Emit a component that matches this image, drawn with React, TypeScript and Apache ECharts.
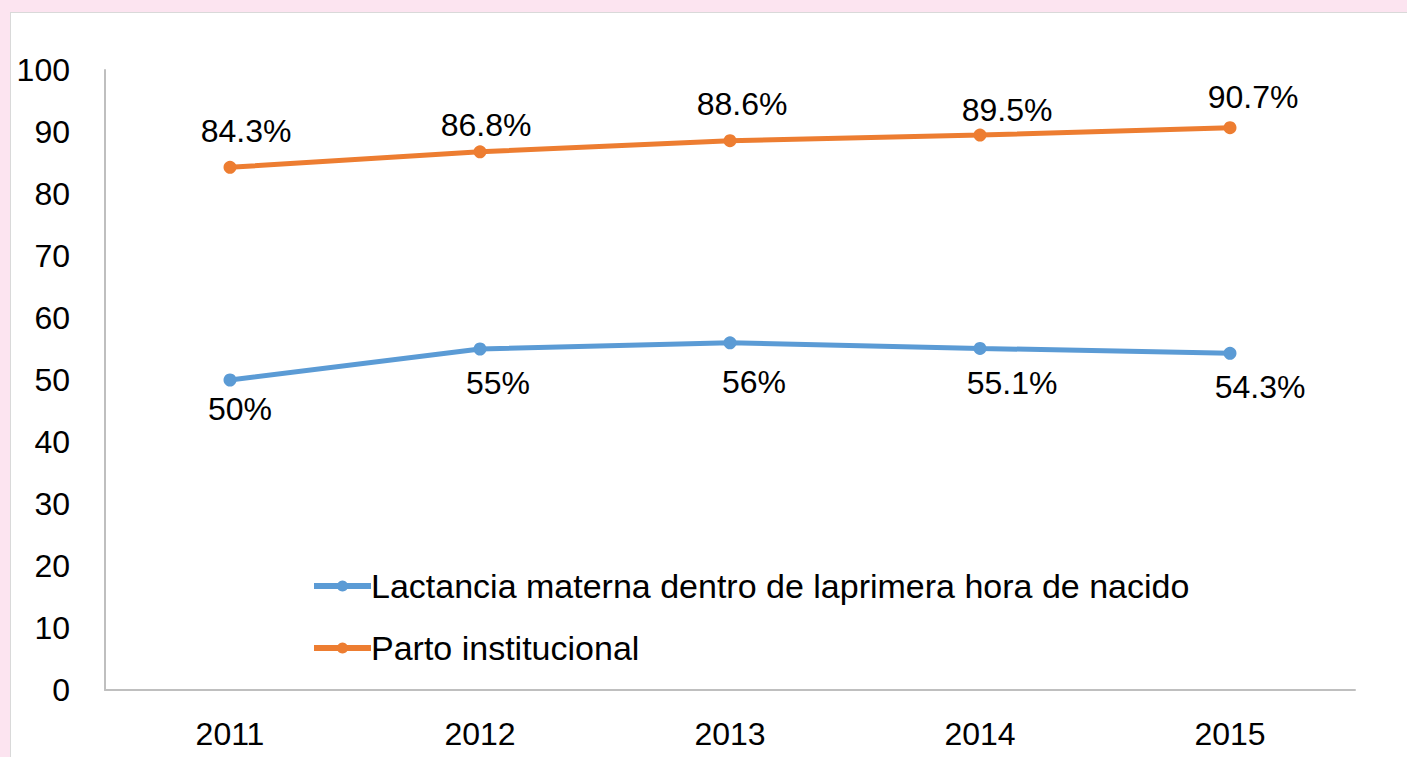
import React, { useEffect, useRef } from "react";
import * as echarts from "echarts";

const years = ["2011", "2012", "2013", "2014", "2015"];
const lactancia = [50, 55, 56, 55.1, 54.3];
const parto = [84.3, 86.8, 88.6, 89.5, 90.7];
const lactanciaLabels = ["50%", "55%", "56%", "55.1%", "54.3%"];
const partoLabels = ["84.3%", "86.8%", "88.6%", "89.5%", "90.7%"];
const seriesNames = ["Lactancia materna dentro de laprimera hora de nacido", "Parto institucional"];

// manual label nudges (px), as placed in the original chart
const partoLabelNudge = [[16, 0], [6, 10], [12, 0], [27, 11], [23, 6]];
const lactanciaLabelNudge = [[10, -4], [18, 1], [24, 7], [32, 2], [30, 1]];

const FONT = "Liberation Sans";

export default function App() {
  const ref = useRef<HTMLDivElement>(null);
  useEffect(() => {
    if (!ref.current) return;
    const chart = echarts.init(ref.current, null, { renderer: "svg" });
    chart.setOption({
      animation: false,
      textStyle: { fontFamily: FONT },
      grid: { left: 95, top: 58, right: 52, bottom: 67, containLabel: false },
      legend: {
        orient: "vertical",
        left: 301,
        top: 557,
        padding: 0,
        itemWidth: 57,
        itemHeight: 14,
        itemGap: 28,
        lineStyle: { width: 6 },
        textStyle: { fontFamily: FONT, fontSize: 34, color: "#000", padding: [0, 0, 0, -5] },
        data: seriesNames,
      },
      xAxis: {
        type: "category",
        data: years,
        boundaryGap: true,
        axisLine: { lineStyle: { color: "#bfbfbf", width: 2 } },
        axisTick: { show: false },
        axisLabel: { fontFamily: FONT, fontSize: 32, color: "#000", margin: 28 },
      },
      yAxis: {
        type: "value",
        min: 0,
        max: 100,
        interval: 10,
        splitLine: { show: false },
        axisLine: { show: true, lineStyle: { color: "#bfbfbf", width: 2 } },
        axisTick: { show: false },
        axisLabel: { fontFamily: FONT, fontSize: 32, color: "#000", margin: 35 },
      },
      series: [
        {
          name: seriesNames[0],
          type: "line",
          data: lactancia.map((v, i) => ({ value: v, label: { offset: lactanciaLabelNudge[i] } })),
          color: "#5b9bd5",
          symbol: "circle",
          symbolSize: 13,
          lineStyle: { width: 5, color: "#5b9bd5" },
          itemStyle: { color: "#5b9bd5" },
          label: {
            show: true,
            position: "bottom",
            distance: 10,
            fontFamily: FONT,
            fontSize: 32,
            color: "#000",
            formatter: (p: any) => lactanciaLabels[p.dataIndex],
          },
        },
        {
          name: seriesNames[1],
          type: "line",
          data: parto.map((v, i) => ({ value: v, label: { offset: partoLabelNudge[i] } })),
          color: "#ed7d31",
          symbol: "circle",
          symbolSize: 13,
          lineStyle: { width: 5, color: "#ed7d31" },
          itemStyle: { color: "#ed7d31" },
          label: {
            show: true,
            position: "top",
            distance: 14,
            fontFamily: FONT,
            fontSize: 32,
            color: "#000",
            formatter: (p: any) => partoLabels[p.dataIndex],
          },
        },
      ],
    });
    return () => chart.dispose();
  }, []);
  return (
    <div style={{ position: "fixed", left: 0, top: 0, width: 1407, height: 757, background: "#fce4f0", overflow: "hidden" }}>
      <div
        style={{
          position: "absolute",
          left: 10,
          top: 12,
          width: 1397,
          height: 745,
          background: "#fff",
          boxSizing: "border-box",
          borderLeft: "1px solid #d9d9d9",
          borderTop: "1px solid #d9d9d9",
        }}
      >
        <div ref={ref} style={{ position: "absolute", left: -1, top: -1, width: 1397, height: 745 }} />
      </div>
    </div>
  );
}
